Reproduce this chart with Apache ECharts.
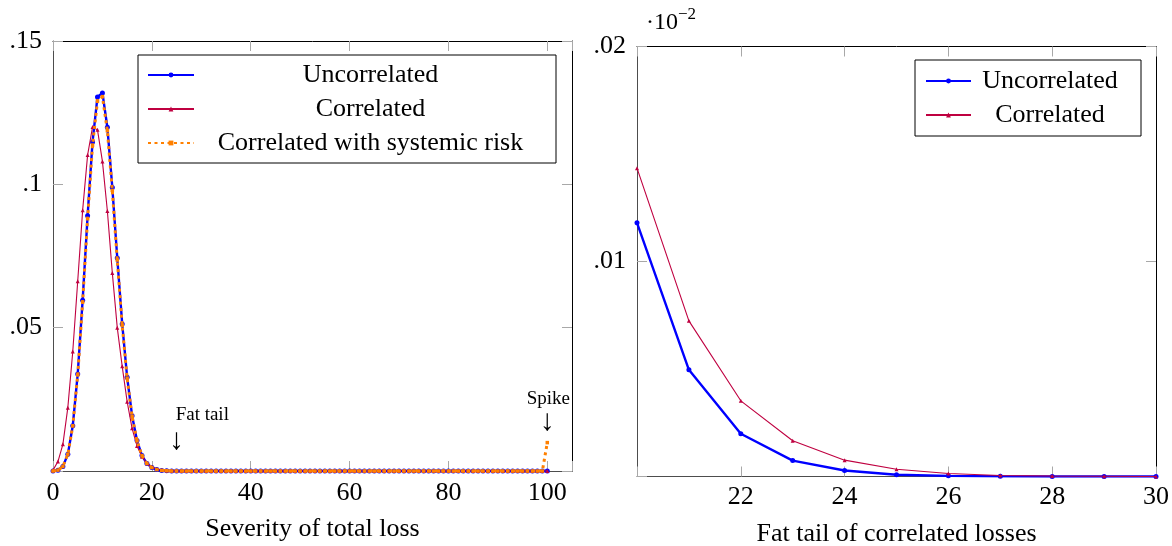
<!DOCTYPE html>
<html><head><meta charset="utf-8">
<script src="https://cdn.jsdelivr.net/npm/echarts@6/dist/echarts.min.js"></script>
<style>html,body{margin:0;padding:0;background:#fff}#c{width:1172px;height:546px}</style>
</head><body><div id="c"></div>
<script>
// ---------- data ----------
const lossLevels = Array.from({length: 101}, (_, i) => i);   // severity of total loss 0..100
const uncorrelated = [
  0.0000, 0.0003, 0.0016, 0.0058, 0.0158, 0.0338, 0.0596, 0.0890, 0.1148, 0.1305,
  0.1319, 0.1199, 0.0989, 0.0743, 0.0513, 0.0327, 0.0193, 0.0106, 0.0054, 0.0026,
  0.00118, 0.0005, 0.0002, 0.00007, 0.00003, 0, 0, 0, 0, 0,
  0, 0, 0, 0, 0, 0, 0, 0, 0, 0,  0, 0, 0, 0, 0, 0, 0, 0, 0, 0,
  0, 0, 0, 0, 0, 0, 0, 0, 0, 0,  0, 0, 0, 0, 0, 0, 0, 0, 0, 0,
  0, 0, 0, 0, 0, 0, 0, 0, 0, 0,  0, 0, 0, 0, 0, 0, 0, 0, 0, 0,
  0, 0, 0, 0, 0, 0, 0, 0, 0, 0,  0
];
const correlated = [
  0.0003, 0.0033, 0.0093, 0.0221, 0.0417, 0.0662, 0.0910, 0.1102, 0.1200, 0.1190,
  0.1080, 0.0907, 0.0691, 0.0500, 0.0365, 0.0242, 0.0149, 0.0087, 0.0050, 0.0027,
  0.00143, 0.00072, 0.00035, 0.00017, 0.00008, 0.00003, 0.00001, 0, 0, 0,
  0, 0, 0, 0, 0, 0, 0, 0, 0, 0,  0, 0, 0, 0, 0, 0, 0, 0, 0, 0,
  0, 0, 0, 0, 0, 0, 0, 0, 0, 0,  0, 0, 0, 0, 0, 0, 0, 0, 0, 0,
  0, 0, 0, 0, 0, 0, 0, 0, 0, 0,  0, 0, 0, 0, 0, 0, 0, 0, 0, 0,
  0, 0, 0, 0, 0, 0, 0, 0, 0, 0,  0
];
const systemic = [
  0.0000, 0.0003, 0.0016, 0.0058, 0.0157, 0.0335, 0.0590, 0.0880, 0.1137, 0.1291,
  0.1306, 0.1187, 0.0979, 0.0736, 0.0508, 0.0324, 0.0191, 0.0105, 0.0054, 0.0026,
  0.0012, 0.0005, 0.0002, 0.0001, 0, 0, 0, 0, 0, 0,
  0, 0, 0, 0, 0, 0, 0, 0, 0, 0,  0, 0, 0, 0, 0, 0, 0, 0, 0, 0,
  0, 0, 0, 0, 0, 0, 0, 0, 0, 0,  0, 0, 0, 0, 0, 0, 0, 0, 0, 0,
  0, 0, 0, 0, 0, 0, 0, 0, 0, 0,  0, 0, 0, 0, 0, 0, 0, 0, 0, 0,
  0, 0, 0, 0, 0, 0, 0, 0, 0, 0,  0.0099
];
// fat tail zoom (values shown in units of 10^-2)
const tailLevels = [20, 21, 22, 23, 24, 25, 26, 27, 28, 29, 30];
const tailUncorrelated = [0.0118, 0.00496, 0.00199, 0.00074, 0.00028, 0.00008, 0.00003, 0.00001, 0, 0, 0];
const tailCorrelated   = [0.01434, 0.00724, 0.00352, 0.00166, 0.00076, 0.00034, 0.00014, 0.00005, 0.00002, 0.00001, 0];

const seriesNames = ['Uncorrelated', 'Correlated', 'Correlated with systemic risk'];
const leftXTicks = [0, 20, 40, 60, 80, 100];
const annotations = [
  {text: 'Fat tail', at: [30.2, 0.0196], size: 19},
  {text: '↓', at: [25, 0.0105], size: 30},
  {text: 'Spike', at: [100.2, 0.0252], size: 19},
  {text: '↓', at: [100, 0.0172], size: 30}
];

// ---------- chart ----------
const FONT = 'Liberation Serif';
const BLUE = '#0000ff', PURPLE = '#bf0040', ORANGE = '#ff8000';
const pairs = (xs, ys) => xs.map((x, i) => [x, ys[i]]);
const fmtDec = v => { const r = +(+v).toFixed(4); return r === 0 ? '' : String(r).replace(/^0\./, '.'); };

const tickStyle = {show: true, inside: true, length: 10, lineStyle: {color: '#a8a8a8', width: 1}};
const labelBase = {color: '#000', fontFamily: FONT, fontSize: 26};
const nameStyle = {color: '#000', fontFamily: FONT, fontSize: 26};

function xPair(grid, min, max, interval, fmt, name, margin, nameGap) {
  return [
    {gridIndex: grid, type: 'value', min, max, interval, position: 'bottom',
     axisLine: {show: true, onZero: false, lineStyle: {color: '#4d4d4d', width: 1}}, axisTick: tickStyle,
     axisLabel: Object.assign({margin, formatter: fmt, showMaxLabel: true, showMinLabel: true}, labelBase),
     splitLine: {show: false},
     name, nameLocation: 'middle', nameGap, nameTextStyle: nameStyle},
    {gridIndex: grid, type: 'value', min, max, interval, position: 'top',
     axisLine: {show: true, onZero: false, lineStyle: {color: '#000', width: 1}}, axisTick: tickStyle,
     axisLabel: {show: false}, splitLine: {show: false}}
  ];
}
function yPair(grid, min, max, interval) {
  return [
    {gridIndex: grid, type: 'value', min, max, interval, position: 'left',
     axisLine: {show: true, onZero: false, lineStyle: {color: '#4d4d4d', width: 1}}, axisTick: tickStyle,
     axisLabel: Object.assign({margin: 11, formatter: fmtDec}, labelBase),
     splitLine: {show: false}},
    {gridIndex: grid, type: 'value', min, max, interval, position: 'right',
     axisLine: {show: true, onZero: false, lineStyle: {color: '#000', width: 1}}, axisTick: tickStyle,
     axisLabel: {show: false}, splitLine: {show: false}}
  ];
}

const styles = {
  'Uncorrelated': {symbol: 'circle', symbolSize: 5, lineStyle: {color: BLUE, width: 2.4}, itemStyle: {color: BLUE}, z: 2},
  'Correlated': {symbol: 'triangle', symbolSize: 4, lineStyle: {color: PURPLE, width: 1.1}, itemStyle: {color: PURPLE}, z: 3},
  'Correlated with systemic risk': {symbol: 'rect', symbolSize: 3.5, lineStyle: {color: ORANGE, width: 3, type: [3, 3.5]}, itemStyle: {color: ORANGE}, z: 4}
};
function mk(name, xi, yi, data, extra) {
  return Object.assign({name, type: 'line', xAxisIndex: xi, yAxisIndex: yi, data, showAllSymbol: true,
    animation: false, silent: true}, styles[name], extra || {});
}
function legendBox(names, left, top, padding, textWidth, itemWidth) {
  return {data: names, orient: 'vertical', left, top, padding, itemGap: 8,
    itemWidth, itemHeight: 6, backgroundColor: '#fff', borderColor: '#000', borderWidth: 1,
    selectedMode: false, formatter: '{t|{name}}',
    textStyle: {fontFamily: FONT, fontSize: 26, lineHeight: 26,
      rich: {t: {width: textWidth, align: 'center', fontFamily: FONT, fontSize: 26, lineHeight: 26, color: '#000'}}}};
}

const option = {
  animation: false,
  backgroundColor: '#fff',
  grid: [
    {left: 53, top: 41, width: 519, height: 430, containLabel: false, outerBoundsMode: 'none'},
    {left: 637, top: 46.5, width: 519, height: 430, containLabel: false, outerBoundsMode: 'none'}
  ],
  xAxis: [
    ...xPair(0, 0, 105, 20, v => leftXTicks.includes(v) ? String(v) : '', 'Severity of total loss', 9, 45),
    ...xPair(1, 20, 30, 2, v => v === 20 ? '' : String(v), 'Fat tail of correlated losses', 8, 45)
  ],
  yAxis: [
    ...yPair(0, 0, 0.15, 0.05),
    ...yPair(1, 0, 0.02, 0.01)
  ],
  legend: [
    legendBox(seriesNames, 138, 55, [7, 14, 7, 9], 343, 46),
    legendBox(seriesNames.slice(0, 2), 915, 60, [8, 17, 8, 10], 148, 45)
  ],
  graphic: [
    {type: 'text', left: 646, top: 11, style: {text: '·10', font: '24px "Liberation Serif"', fill: '#000'}},
    {type: 'text', left: 678, top: 6, style: {text: '−2', font: '17px "Liberation Serif"', fill: '#000'}}
  ],
  series: [
    mk('Uncorrelated', 0, 0, pairs(lossLevels, uncorrelated), {
      markPoint: {
        silent: true, symbol: 'circle', symbolSize: 0, animation: false,
        itemStyle: {color: 'rgba(0,0,0,0)'},
        data: annotations.map(a => ({coord: a.at, value: 0,
          label: {show: true, position: 'inside', formatter: a.text, color: '#000', fontFamily: FONT, fontSize: a.size}}))
      }
    }),
    mk('Correlated', 0, 0, pairs(lossLevels, correlated)),
    mk('Correlated with systemic risk', 0, 0, pairs(lossLevels, systemic)),
    mk('Uncorrelated', 2, 2, pairs(tailLevels, tailUncorrelated)),
    mk('Correlated', 2, 2, pairs(tailLevels, tailCorrelated))
  ]
};

const chart = echarts.init(document.getElementById('c'), null, {renderer: 'canvas'});
chart.setOption(option);
</script>
</body></html>
